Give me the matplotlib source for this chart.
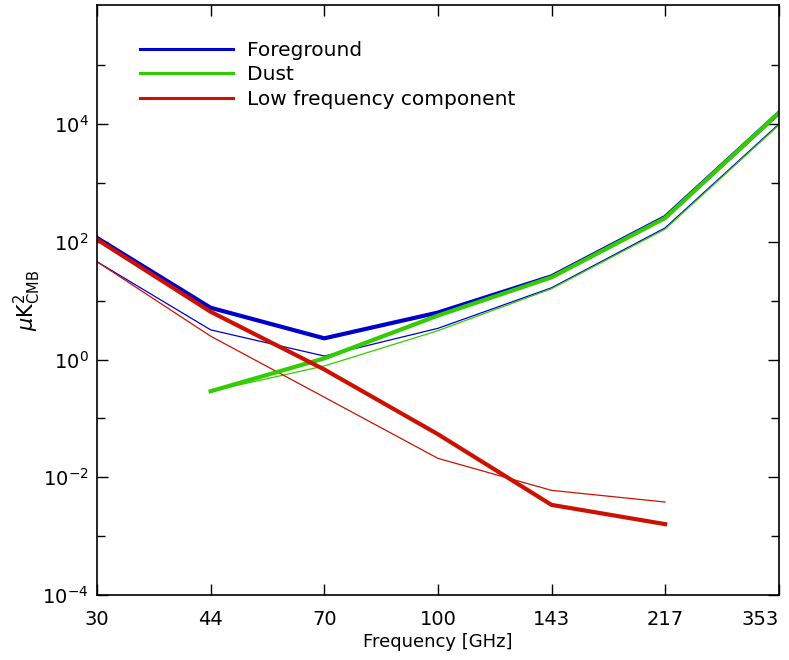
import numpy as np
import matplotlib
matplotlib.use('Agg')
import matplotlib.pyplot as plt

freqs = ['30', '44', '70', '100', '143', '217', '353']

# thick lines
fg_thick = [117, 7.6, 2.3, 6.3, 26, 265, 15500]
dust_thick = [None, 0.29, 1.05, 5.6, 25, 255, 15500]
low_thick = [110, 6.5, 0.68, 0.054, 0.0034, 0.0016, None]

# thin lines
fg_thin = [46, 3.2, 1.15, 3.4, 16.6, 173, 10000]
dust_thin = [None, 0.29, 0.78, 3.1, 16, 165, 9600]
low_thin = [46, 2.5, 0.23, 0.021, 0.006, 0.0038, None]

blue = '#0000cc'
green = '#33cc00'
red = '#cc1100'


def arr(v):
    return np.array([np.nan if a is None else a for a in v], dtype=float)


x = np.arange(len(freqs))

fig = plt.figure(figsize=(7.89, 6.60), dpi=100)
ax = fig.add_axes([0.123, 0.0985, 0.864, 0.8935])

ax.plot(x, arr(fg_thin), color=blue, lw=0.9)
ax.plot(x, arr(dust_thin), color=green, lw=0.9)
ax.plot(x, arr(low_thin), color=red, lw=0.9)

ax.plot(x, arr(fg_thick), color=blue, lw=3, label='Foreground')
ax.plot(x, arr(dust_thick), color=green, lw=3, label='Dust')
ax.plot(x, arr(low_thick), color=red, lw=3, label='Low frequency component')

ax.set_yscale('log')
ax.set_xlim(0, 6)
ax.set_ylim(1e-4, 1.05e6)
ax.set_yticks([1e-4, 1e-2, 1, 1e2, 1e4])
ax.set_yticks([1e-3, 1e-1, 1e1, 1e3, 1e5], minor=True)
ax.yaxis.set_minor_formatter(matplotlib.ticker.NullFormatter())
ax.set_xticks(x)
ax.set_xticklabels(freqs)
ax.get_xticklabels()[-1].set_horizontalalignment('right')
ax.tick_params(which='both', direction='in', top=True, right=True, labelsize=14)
ax.tick_params(which='major', length=8, width=1)
ax.tick_params(which='minor', length=6, width=1)
ax.tick_params(axis='x', pad=11)
ax.tick_params(axis='y', pad=6)

ax.set_xlabel('Frequency [GHz]', fontsize=13, labelpad=3)
ax.set_ylabel(r'$\mu\mathrm{K}^2_{\mathrm{CMB}}$', fontsize=15)
ax.yaxis.set_label_coords(-0.08, 0.5)

for s in ax.spines.values():
    s.set_linewidth(1.2)

leg = ax.legend(loc='upper left', bbox_to_anchor=(0.063, 0.94), frameon=False,
                fontsize=14.5, handlelength=4.6, handletextpad=0.7, labelspacing=0.28,
                borderpad=0, borderaxespad=0)
for l in leg.get_lines():
    l.set_linewidth(2.2)

fig.savefig('out.png', dpi=100)
